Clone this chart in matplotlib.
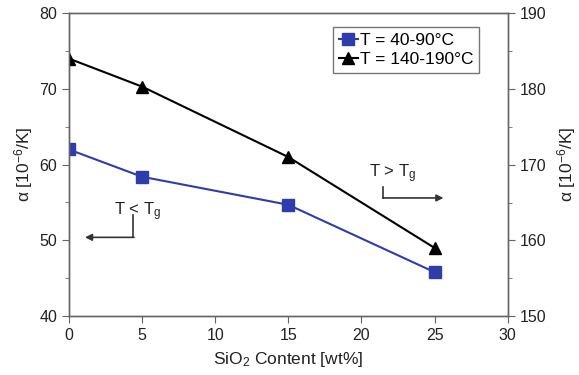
import matplotlib
matplotlib.use("Agg")
import matplotlib.pyplot as plt
from matplotlib.ticker import MultipleLocator

plt.rcParams['font.family'] = ['Liberation Sans', 'DejaVu Sans']
plt.rcParams['mathtext.fontset'] = 'custom'
plt.rcParams['mathtext.rm'] = 'Liberation Sans'
plt.rcParams['mathtext.it'] = 'Liberation Sans:italic'
plt.rcParams['axes.unicode_minus'] = False

# data
sio2 = [0, 5, 15, 25]
alpha_low = [62.0, 58.4, 54.7, 45.8]       # T = 40-90°C, left axis
alpha_high = [184.0, 180.3, 171.0, 159.0]  # T = 140-190°C, right axis

blue = '#2E3DAA'
spine_col = '#666666'
txt_col = '#222222'

fig = plt.figure(figsize=(5.79, 3.75), dpi=100)
ax = fig.add_axes([0.119, 0.157, 0.758, 0.808])
ax2 = ax.twinx()

l1, = ax.plot(sio2, alpha_low, color=blue, marker='s', markersize=8,
              linewidth=1.5, label='T = 40-90°C')
l2, = ax2.plot(sio2, alpha_high, color='black', marker='^', markersize=8,
               linewidth=1.5, label='T = 140-190°C')

ax.set_xlim(0, 30)
ax.set_ylim(40, 80)
ax2.set_ylim(150, 190)
ax.xaxis.set_major_locator(MultipleLocator(5))
ax.yaxis.set_major_locator(MultipleLocator(10))
ax.yaxis.set_minor_locator(MultipleLocator(5))
ax2.yaxis.set_major_locator(MultipleLocator(10))
ax2.yaxis.set_minor_locator(MultipleLocator(5))

for a in (ax, ax2):
    for s in a.spines.values():
        s.set_color(spine_col)
        s.set_linewidth(1.0)
    a.tick_params(which='major', direction='out', length=5, color=spine_col,
                  labelsize=11.5, labelcolor=txt_col)
    a.tick_params(which='minor', direction='out', length=3, color=spine_col)

ylab = r'α [10$^{\mathrm{-6}}$/K]'
ax.set_xlabel(r'SiO$_\mathrm{2}$ Content [wt%]', fontsize=12.5, color=txt_col, labelpad=5)
ax.set_ylabel(ylab, fontsize=12.5, color=txt_col, labelpad=3)
ax2.set_ylabel(ylab, fontsize=12.5, color=txt_col, labelpad=6)

# T < Tg annotation (left axis)
ax.text(4.7, 52.3, r'T < T$_\mathrm{g}$', fontsize=12, ha='center', va='bottom', color=txt_col)
ax.plot([4.4, 4.4], [53.3, 50.4], color='#333333', linewidth=1.2)
ax.annotate('', xy=(1.1, 50.4), xytext=(4.45, 50.4),
            arrowprops=dict(arrowstyle='-|>', color='#333333', lw=1.2,
                            mutation_scale=10, shrinkA=0, shrinkB=0))

# T > Tg annotation (right axis)
ax.text(22.1, 57.3, r'T > T$_\mathrm{g}$', fontsize=12, ha='center', va='bottom', color=txt_col)
ax.plot([21.5, 21.5], [57.0, 55.6], color='#333333', linewidth=1.2)
ax.annotate('', xy=(25.6, 55.6), xytext=(21.45, 55.6),
            arrowprops=dict(arrowstyle='-|>', color='#333333', lw=1.2,
                            mutation_scale=10, shrinkA=0, shrinkB=0))

leg = ax.legend(handles=[l1, l2], loc='upper right', bbox_to_anchor=(0.935, 0.955),
                fontsize=12.5, frameon=True, fancybox=False, handlelength=1.1,
                handletextpad=0.1, borderpad=0.35, labelspacing=0.2, borderaxespad=0)
leg.get_frame().set_edgecolor('#555555')
leg.get_frame().set_linewidth(1.0)

fig.savefig('out.png', dpi=100)
